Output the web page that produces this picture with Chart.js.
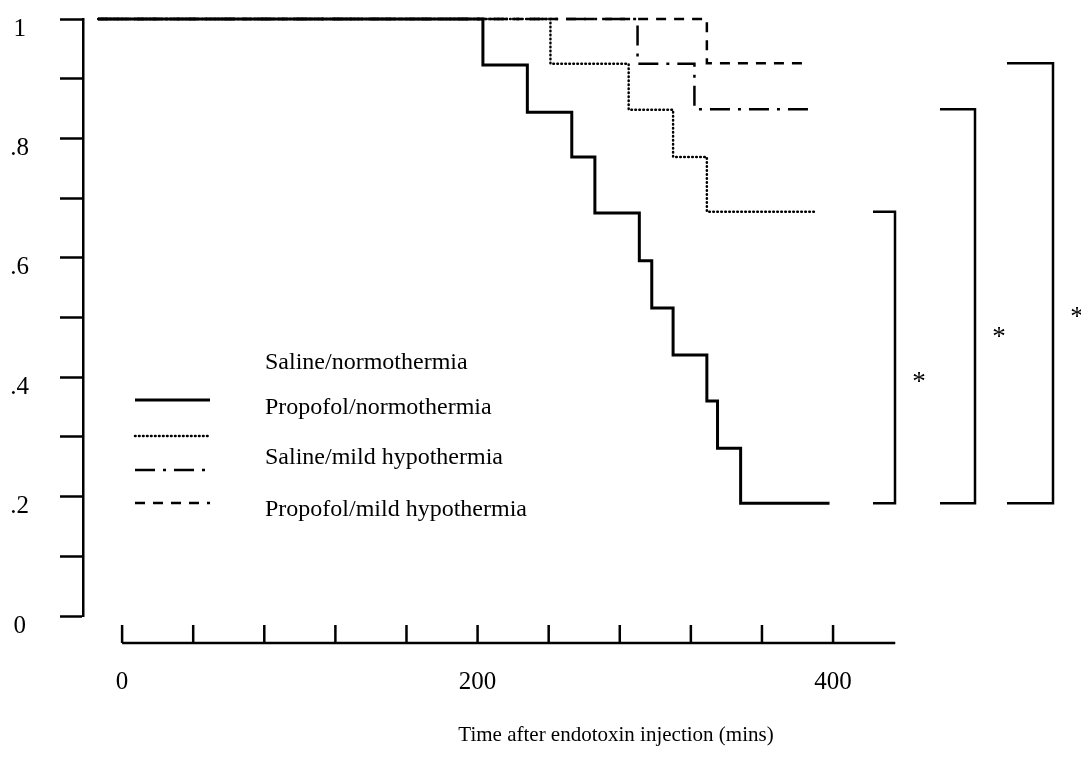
<!DOCTYPE html>
<html>
<head>
<meta charset="utf-8">
<script src="https://cdn.jsdelivr.net/npm/chart.js@4"></script>
<style>
  body { margin: 0; background: #fff; }
  #wrap { width: 1081px; height: 764px; }
</style>
</head>
<body>
<div id="wrap"><canvas id="survChart" width="1081" height="764"></canvas></div>
<script>
// group names, in legend order
var groupNames = [
    'Saline/normothermia',
    'Propofol/normothermia',
    'Saline/mild hypothermia',
    'Propofol/mild hypothermia'
];

// Kaplan-Meier steps: time of each death (mins) and survival after it
var salineNormoTimes = [-13.5, 203, 228, 253, 266, 291, 298, 310, 329, 335, 348, 398];
var salineNormoSurv = [1, .923, .844, .769, .675, .595, .516, .437, .360, .281, .189, .189];

var propofolNormoTimes = [-13.5, 241, 285, 310, 329, 390];
var propofolNormoSurv = [1, .925, .848, .769, .677, .677];

var salineHypoTimes = [-13.5, 290, 322, 390];
var salineHypoSurv = [1, .925, .849, .849];

var propofolHypoTimes = [-13.5, 329, 383];
var propofolHypoSurv = [1, .926, .926];

// axis ticks
var xTickValues = [0, 40, 80, 120, 160, 200, 240, 280, 320, 360, 400];
var xTickLabels = {0: '0', 200: '200', 400: '400'};
var yTickLabels = {0: '0', 2: '.2', 4: '.4', 6: '.6', 8: '.8', 10: '1'};

// each group compared with saline/normothermia
var comparisons = [[1, 0], [2, 0], [3, 0]];
var compMarks = ['*', '*', '*'];

var SERIF = "'Liberation Serif', 'Times New Roman', serif";

function toPoints(times, surv) {
    return times.map(function (t, i) { return {x: t, y: surv[i]}; });
}

function lastOf(arr) { return arr[arr.length - 1]; }

var survSets = [
    {times: salineNormoTimes, surv: salineNormoSurv, width: 3, dash: [], cap: 'butt'},
    {times: propofolNormoTimes, surv: propofolNormoSurv, width: 2.5, dash: [0.6, 3.4], cap: 'round'},
    {times: salineHypoTimes, surv: salineHypoSurv, width: 2.5, dash: [20, 8, 3, 8], cap: 'butt'},
    {times: propofolHypoTimes, surv: propofolHypoSurv, width: 2.5, dash: [10, 8], cap: 'butt'}
];

// x axis sits below the plot, detached from the y axis
var xAxisPlugin = {
    id: 'xAxisBelow',
    afterDraw: function (chart) {
        var ctx = chart.ctx;
        var xs = chart.scales.x;
        var axisY = chart.chartArea.bottom + 27;
        ctx.save();
        ctx.strokeStyle = '#000';
        ctx.lineWidth = 2.5;
        ctx.beginPath();
        ctx.moveTo(xs.getPixelForValue(0), axisY);
        ctx.lineTo(xs.getPixelForValue(435), axisY);
        xTickValues.forEach(function (v) {
            var px = xs.getPixelForValue(v);
            ctx.moveTo(px, axisY);
            ctx.lineTo(px, axisY - 18);
        });
        ctx.stroke();

        ctx.fillStyle = '#000';
        ctx.font = '25px ' + SERIF;
        ctx.textAlign = 'center';
        ctx.textBaseline = 'middle';
        xTickValues.forEach(function (v) {
            if (xTickLabels[v] !== undefined) {
                ctx.fillText(xTickLabels[v], xs.getPixelForValue(v), axisY + 39);
            }
        });

        ctx.font = '21px ' + SERIF;
        ctx.fillText('Time after endotoxin injection (mins)', 616, axisY + 92);
        ctx.restore();
    }
};

// legend: line samples and names on their own rows
var legendPlugin = {
    id: 'sampleLegend',
    afterDraw: function (chart) {
        var ctx = chart.ctx;
        var lineRows = [400, 436, 470, 503];
        var textRows = [363, 408, 458, 510];
        ctx.save();
        chart.data.datasets.forEach(function (ds, i) {
            if (i >= groupNames.length) return;
            ctx.strokeStyle = '#000';
            ctx.lineWidth = ds.borderWidth;
            ctx.lineCap = ds.borderCapStyle;
            ctx.setLineDash(ds.borderDash);
            ctx.beginPath();
            ctx.moveTo(135, lineRows[i]);
            ctx.lineTo(210, lineRows[i]);
            ctx.stroke();
        });
        ctx.setLineDash([]);
        ctx.fillStyle = '#000';
        ctx.font = '24px ' + SERIF;
        ctx.textAlign = 'left';
        ctx.textBaseline = 'middle';
        groupNames.forEach(function (name, i) {
            ctx.fillText(name, 265, textRows[i]);
        });
        ctx.restore();
    }
};

// significance brackets between final survival levels
var bracketPlugin = {
    id: 'sigBrackets',
    afterDraw: function (chart) {
        var ctx = chart.ctx;
        var ys = chart.scales.y;
        var arms = [[873, 895], [940, 975], [1007, 1053]];
        ctx.save();
        ctx.strokeStyle = '#000';
        ctx.fillStyle = '#000';
        ctx.lineWidth = 2.5;
        ctx.font = '27px ' + SERIF;
        ctx.textAlign = 'center';
        ctx.textBaseline = 'middle';
        comparisons.forEach(function (pair, i) {
            var top = ys.getPixelForValue(lastOf(survSets[pair[0]].surv));
            var bottom = ys.getPixelForValue(lastOf(survSets[pair[1]].surv));
            var a = arms[i];
            ctx.beginPath();
            ctx.moveTo(a[0], top);
            ctx.lineTo(a[1], top);
            ctx.lineTo(a[1], bottom);
            ctx.lineTo(a[0], bottom);
            ctx.stroke();
            ctx.fillText(compMarks[i], a[1] + 24, top + (bottom - top) * 0.56 + 8);
        });
        ctx.restore();
    }
};

window.onload = function () {
    var survConfig = {
        type: 'line',
        data: {
            datasets: survSets.map(function (s, i) {
                return {
                    label: groupNames[i],
                    data: toPoints(s.times, s.surv),
                    stepped: 'before',
                    borderColor: '#000',
                    borderWidth: s.width,
                    borderDash: s.dash,
                    borderCapStyle: s.cap,
                    pointRadius: 0,
                    fill: false,
                    clip: false
                };
            })
        },
        options: {
            responsive: false,
            animation: false,
            layout: {padding: {top: 19, bottom: 148, left: 0, right: 0}},
            plugins: {
                legend: {display: false},
                tooltip: {enabled: false}
            },
            scales: {
                x: {
                    type: 'linear',
                    min: -22,
                    max: 539.5,
                    display: false
                },
                y: {
                    min: 0,
                    max: 1,
                    afterFit: function (scale) {
                        // fixed axis width; labels may overhang the top edge
                        scale.width = 83;
                        scale.paddingTop = 0;
                        scale.paddingBottom = 0;
                    },
                    ticks: {
                        stepSize: 0.1,
                        autoSkip: false,
                        color: '#000',
                        font: {family: SERIF, size: 25},
                        padding: 31,
                        crossAlign: 'center',
                        labelOffset: 10,
                        callback: function (value) {
                            var k = Math.round(value * 10);
                            return yTickLabels[k] !== undefined ? yTickLabels[k] : '';
                        }
                    },
                    grid: {
                        drawOnChartArea: false,
                        drawTicks: true,
                        tickLength: 23,
                        tickWidth: 2.5,
                        color: '#000'
                    },
                    border: {display: true, color: '#000', width: 2.5}
                }
            }
        },
        plugins: [xAxisPlugin, legendPlugin, bracketPlugin]
    };

    window.survChart = new Chart(document.getElementById('survChart'), survConfig);
};
</script>
</body>
</html>
